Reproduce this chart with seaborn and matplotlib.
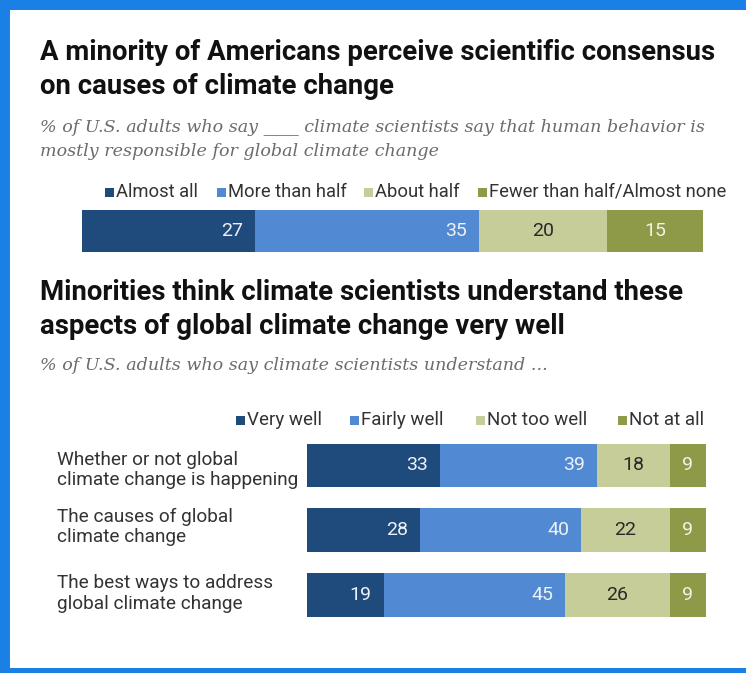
import matplotlib
matplotlib.use("Agg")
import matplotlib.pyplot as plt
from matplotlib import font_manager
from matplotlib.patches import Rectangle
from matplotlib.transforms import blended_transform_factory
import numpy as np
import pandas as pd
import seaborn as sns

# ---- data ----
consensus_labels = ["Almost all", "More than half", "About half", "Fewer than half/Almost none"]
consensus_values = [27, 35, 20, 15]

aspect_items = [
    "Whether or not global\nclimate change is happening",
    "The causes of global\nclimate change",
    "The best ways to address\nglobal climate change",
]
understand_labels = ["Very well", "Fairly well", "Not too well", "Not at all"]
very_well = [33, 28, 19]
fairly_well = [39, 40, 45]
not_too_well = [18, 22, 26]
not_at_all = [9, 9, 9]

colors = ["#1f4a7c", "#5189d3", "#c7cd98", "#8f9a49"]
label_colors = ["#eef2f7", "#eef2f7", "#2a2a2a", "#f2f2e6"]

sns.set_theme(style="white")
available = {f.name for f in font_manager.fontManager.ttflist}
narrow = "Liberation Sans Narrow" if "Liberation Sans Narrow" in available else "Roboto"
plt.rcParams["font.family"] = [narrow, "DejaVu Sans"]

W, H = 746, 673
fig = plt.figure(figsize=(W / 100, H / 100), dpi=100)
fig.patch.set_facecolor("white")


def fx(x):
    return x / W


def fy(y):
    return 1 - y / H


def px_box(x0, y0, x1, y1):
    return [fx(x0), fy(y1), fx(x1) - fx(x0), fy(y0) - fy(y1)]


# frame
blue = "#1a80e5"
for (x0, y0, x1, y1) in [(0, 0, W, 10), (0, 0, 10, H), (0, 668, W, H)]:
    fig.patches.append(Rectangle((fx(x0), fy(y1)), fx(x1) - fx(x0), fy(y0) - fy(y1),
                                 transform=fig.transFigure, facecolor=blue,
                                 edgecolor="none", zorder=10))

title_kw = dict(fontsize=19.8, fontweight="bold", color="#111111", va="center", ha="left")
sub_kw = dict(fontsize=12.6, style="italic", color="#6b6b6b", va="center", ha="left",
              family=["DejaVu Serif"])

fig.text(fx(40), fy(52), "A minority of Americans perceive scientific consensus", **title_kw)
fig.text(fx(40), fy(86), "on causes of climate change", **title_kw)
fig.text(fx(40), fy(128), "% of U.S. adults who say ____ climate scientists say that human behavior is", **sub_kw)
fig.text(fx(40), fy(152), "mostly responsible for global climate change", **sub_kw)

fig.text(fx(40), fy(293), "Minorities think climate scientists understand these", **title_kw)
fig.text(fx(40), fy(326), "aspects of global climate change very well", **title_kw)
fig.text(fx(40), fy(366), "% of U.S. adults who say climate scientists understand ...", **sub_kw)


def legend_row(labels, xs, y, size):
    for lab, x, c in zip(labels, xs, colors):
        fig.patches.append(Rectangle((fx(x), fy(y + 4.5)), fx(9), 9 / H,
                                     transform=fig.transFigure, facecolor=c, edgecolor="none"))
        fig.text(fx(x + 11), fy(y), lab, fontsize=size, color="#333333", va="center", ha="left")


legend_row(consensus_labels, [105, 217, 364, 478], 192, 13.2)
legend_row(understand_labels, [236, 350, 476, 618], 420, 13.5)


def stacked(ax, df, cols, width):
    cum = df[cols].cumsum(axis=1)
    for i in reversed(range(len(cols))):
        sns.barplot(x=cum[cols[i]], y=df["item"], orient="h", color=colors[i],
                    saturation=1, width=width, linewidth=0, ax=ax)
    px_per_unit = ax.transData.transform((1, 0))[0] - ax.transData.transform((0, 0))[0]
    for r in range(len(df)):
        left = 0
        for i, c in enumerate(cols):
            v = df[c].iloc[r]
            if i < 2:
                xpos = left + v - 12 / px_per_unit
                ha = "right"
            else:
                xpos = left + v / 2
                ha = "center"
            ax.text(xpos, r, f"{v}", ha=ha, va="center", fontsize=14,
                    color=label_colors[i])
            left += v
    ax.set_xlabel("")
    ax.set_ylabel("")
    ax.set_xticks([])
    ax.set_yticks([])
    for s in ax.spines.values():
        s.set_visible(False)
    ax.set_facecolor("none")


# top bar
df_top = pd.DataFrame({"item": ["all"]})
for lab, v in zip(consensus_labels, consensus_values):
    df_top[lab] = [v]
ax1 = fig.add_axes(px_box(82, 210, 703, 252))
ax1.set_xlim(0, sum(consensus_values))
stacked(ax1, df_top, consensus_labels, 1.0)
ax1.set_xlim(0, sum(consensus_values))
ax1.set_ylim(0.5, -0.5)

# bottom bars
df_bot = pd.DataFrame({"item": aspect_items, "Very well": very_well,
                       "Fairly well": fairly_well, "Not too well": not_too_well,
                       "Not at all": not_at_all})
ax2 = fig.add_axes(px_box(307, 433.1, 706, 627.4))
ax2.set_xlim(0, 99)
stacked(ax2, df_bot, understand_labels, 0.672)
ax2.set_xlim(0, 99)
ax2.set_ylim(2.5, -0.5)

tr = blended_transform_factory(fig.transFigure, ax2.transData)
label_offsets = [0.07, -0.05, -0.02]
for r, (txt, off) in enumerate(zip(aspect_items, label_offsets)):
    ax2.text(fx(57), r + off, txt, transform=tr, ha="left", va="center",
             fontsize=13.7, color="#333333", linespacing=1.2)

fig.savefig("out.png", dpi=100, facecolor="white")
